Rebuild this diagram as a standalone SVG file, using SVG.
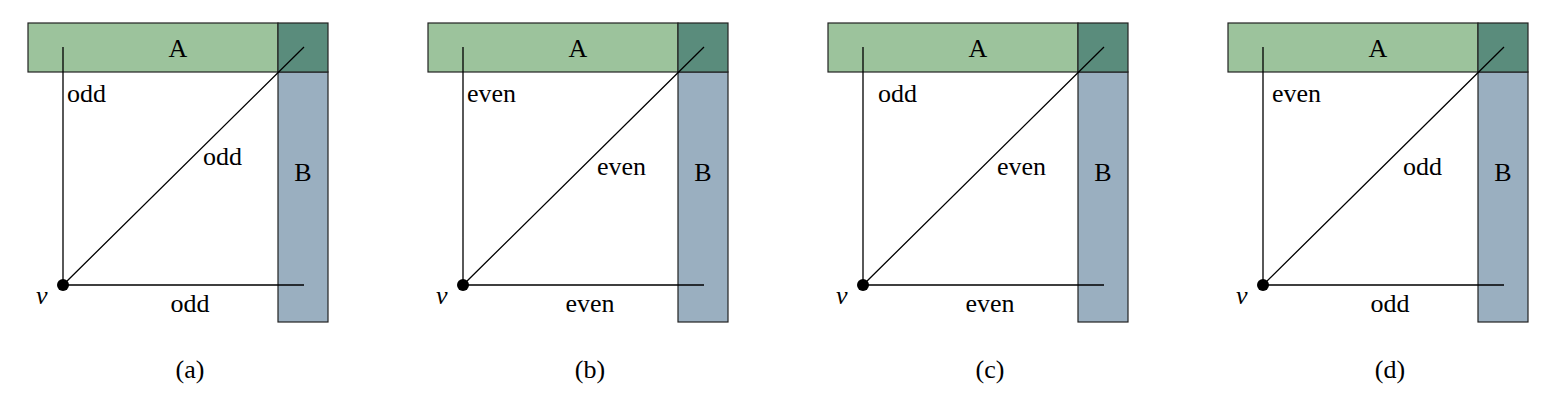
<svg xmlns="http://www.w3.org/2000/svg" width="1556" height="400" viewBox="0 0 1556 400">
<defs><style>
.a{fill:#9cc39c;stroke:#222;stroke-width:1.2}
.b{fill:#9aafc0;stroke:#222;stroke-width:1.2}
.ab{fill:#5a8c7c;stroke:#222;stroke-width:1.2}
.l{stroke:#000;stroke-width:1.3;fill:none}
text{font-family:"Liberation Serif",serif;font-size:26px;fill:#000}
.m{text-anchor:middle}
</style>
<g id="panel">
<rect class="a" x="28" y="23" width="250" height="49"/>
<rect class="b" x="278" y="72" width="50" height="250"/>
<rect class="ab" x="278" y="23" width="50" height="49"/>
<text class="m" x="178" y="57">A</text>
<text class="m" x="303" y="181">B</text>
<g class="l"><path d="M63 47V285H304M63 285L304 47"/></g>
<circle cx="63" cy="285" r="6" fill="#000"/>
<text x="36" y="304" font-style="italic">v</text>
</g></defs>
<g id="a"><use href="#panel"/><text x="67" y="102">odd</text><text x="203" y="165">odd</text><text class="m" x="190" y="312">odd</text><text class="m" x="190" y="378">(a)</text></g>
<g id="b" transform="translate(400,0)"><use href="#panel"/><text x="67" y="102">even</text><text x="197" y="175">even</text><text class="m" x="190" y="312">even</text><text class="m" x="190" y="378">(b)</text></g>
<g id="c" transform="translate(800,0)"><use href="#panel"/><text x="78" y="102">odd</text><text x="197" y="175">even</text><text class="m" x="190" y="312">even</text><text class="m" x="190" y="378">(c)</text></g>
<g id="d" transform="translate(1200,0)"><use href="#panel"/><text x="72" y="102">even</text><text x="203" y="175">odd</text><text class="m" x="190" y="312">odd</text><text class="m" x="190" y="378">(d)</text></g>
</svg>
